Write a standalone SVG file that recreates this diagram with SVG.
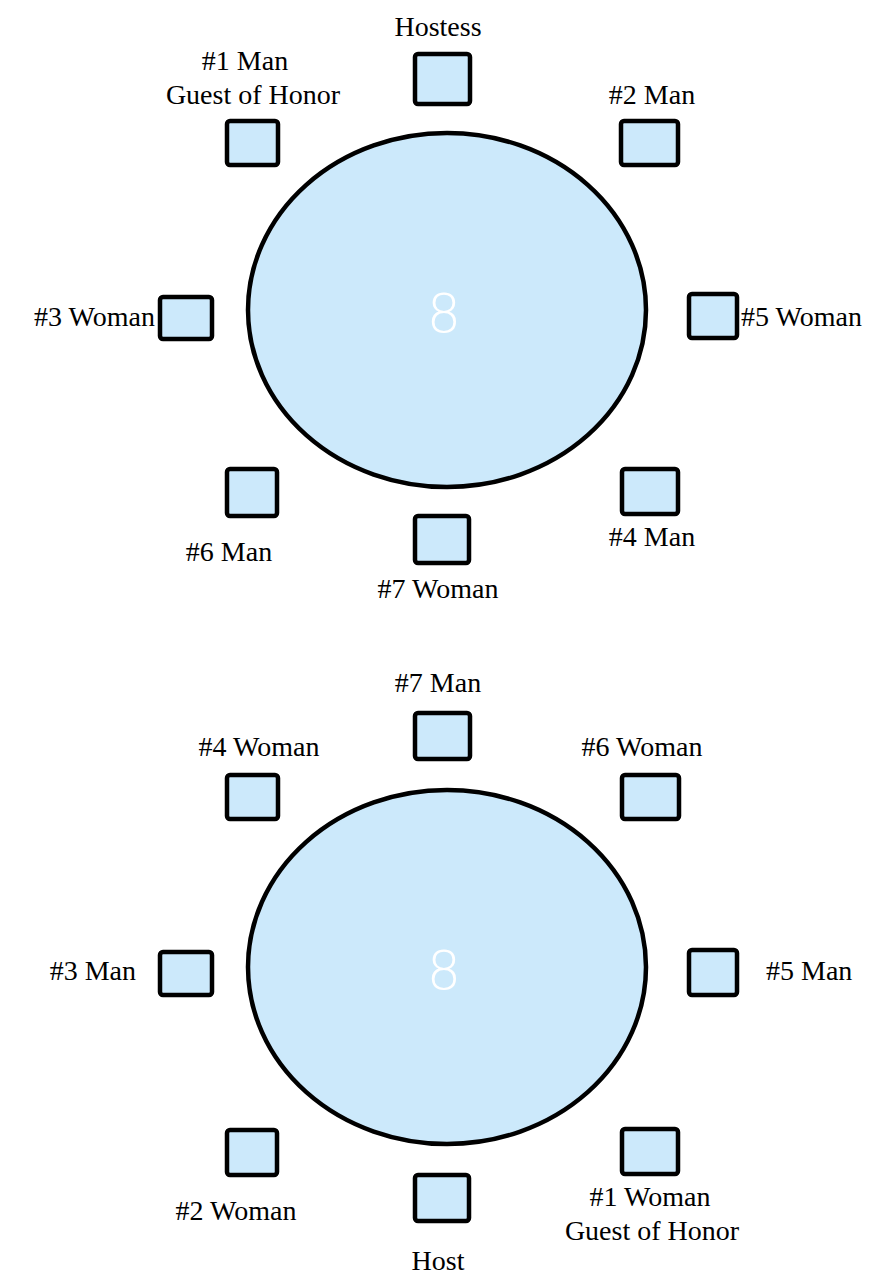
<svg xmlns="http://www.w3.org/2000/svg" width="892" height="1280" viewBox="0 0 892 1280">
<style>
.tbl{fill:#cce9fb;stroke:#000;stroke-width:4.5}
.seat{fill:#cce9fb;stroke:#000;stroke-width:4.5}
.lbl{font-family:"Liberation Serif","Times New Roman",serif;font-size:28px;fill:#000}
.num{font-family:"DejaVu Sans","Liberation Sans",sans-serif;font-size:54px;fill:#fff;font-weight:300}
</style>
<rect width="892" height="1280" fill="#fff"/>
<g id="table1">
<ellipse class="tbl" cx="447" cy="310" rx="199" ry="177"/>
<text class="num" x="444" y="332" text-anchor="middle">8</text>
</g>
<g id="t1-hostess"><rect class="seat" x="415" y="54" width="55" height="50" rx="3"/><text class="lbl" x="438" y="36" text-anchor="middle">Hostess</text></g>
<g id="t1-1man"><rect class="seat" x="227" y="121" width="51" height="44" rx="3"/><text class="lbl" x="245" y="70" text-anchor="middle">#1 Man</text><text class="lbl" x="253" y="104" text-anchor="middle">Guest of Honor</text></g>
<g id="t1-2man"><rect class="seat" x="621" y="121" width="57" height="44" rx="3"/><text class="lbl" x="652" y="104" text-anchor="middle">#2 Man</text></g>
<g id="t1-3woman"><rect class="seat" x="160" y="297" width="52" height="42" rx="3"/><text class="lbl" x="155" y="326" text-anchor="end" font-size="30">#3 Woman</text></g>
<g id="t1-5woman"><rect class="seat" x="689" y="294" width="48" height="44" rx="3"/><text class="lbl" x="741" y="326" font-size="30">#5 Woman</text></g>
<g id="t1-6man"><rect class="seat" x="227" y="469" width="50" height="47" rx="3"/><text class="lbl" x="229" y="561" text-anchor="middle">#6 Man</text></g>
<g id="t1-7woman"><rect class="seat" x="415" y="516" width="54" height="47" rx="3"/><text class="lbl" x="438" y="598" text-anchor="middle">#7 Woman</text></g>
<g id="t1-4man"><rect class="seat" x="622" y="469" width="56" height="45" rx="3"/><text class="lbl" x="652" y="546" text-anchor="middle">#4 Man</text></g>

<g id="table2">
<ellipse class="tbl" cx="447" cy="967" rx="199" ry="177"/>
<text class="num" x="444" y="989" text-anchor="middle">8</text>
</g>
<g id="t2-7man"><rect class="seat" x="415" y="713" width="55" height="46" rx="3"/><text class="lbl" x="438" y="692" text-anchor="middle">#7 Man</text></g>
<g id="t2-4woman"><rect class="seat" x="227" y="775" width="51" height="44" rx="3"/><text class="lbl" x="259" y="756" text-anchor="middle">#4 Woman</text></g>
<g id="t2-6woman"><rect class="seat" x="622" y="775" width="57" height="44" rx="3"/><text class="lbl" x="642" y="756" text-anchor="middle">#6 Woman</text></g>
<g id="t2-3man"><rect class="seat" x="160" y="952" width="52" height="43" rx="3"/><text class="lbl" x="136" y="980" text-anchor="end">#3 Man</text></g>
<g id="t2-5man"><rect class="seat" x="689" y="950" width="48" height="45" rx="3"/><text class="lbl" x="766" y="980">#5 Man</text></g>
<g id="t2-2woman"><rect class="seat" x="227" y="1130" width="50" height="45" rx="3"/><text class="lbl" x="236" y="1220" text-anchor="middle">#2 Woman</text></g>
<g id="t2-host"><rect class="seat" x="415" y="1175" width="54" height="46" rx="3"/><text class="lbl" x="438" y="1270" text-anchor="middle">Host</text></g>
<g id="t2-1woman"><rect class="seat" x="622" y="1129" width="56" height="45" rx="3"/><text class="lbl" x="650" y="1206" text-anchor="middle">#1 Woman</text><text class="lbl" x="652" y="1240" text-anchor="middle">Guest of Honor</text></g>
</svg>
